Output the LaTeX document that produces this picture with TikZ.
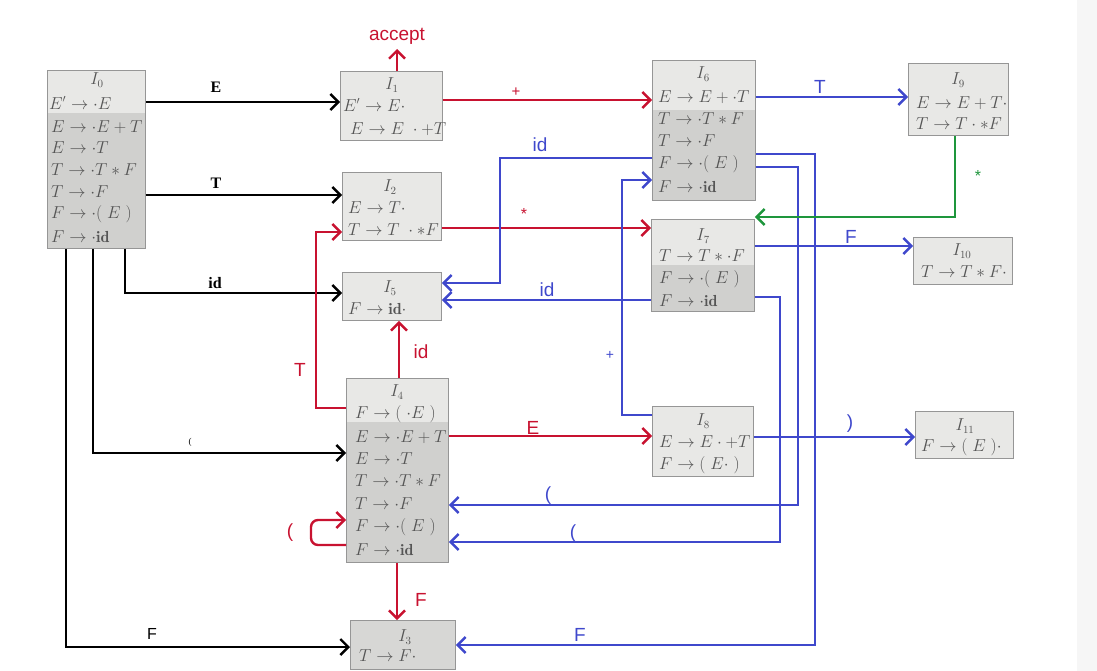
\documentclass[tikz,border=0pt]{standalone}
\usepackage{fontspec}
\newfontfamily\lab{Liberation Sans}
\newfontfamily\labs{Liberation Serif}
\usetikzlibrary{arrows.meta}
\definecolor{redc}{RGB}{200,18,48}
\definecolor{bluec}{RGB}{63,72,204}
\definecolor{greenc}{RGB}{30,150,60}
\definecolor{lightg}{RGB}{232,232,230}
\definecolor{darkg}{RGB}{208,208,206}
\definecolor{boxline}{RGB}{150,150,150}
\definecolor{itemg}{RGB}{85,85,85}
\definecolor{stripg}{RGB}{246,246,246}
\tikzset{
  box/.style={draw=boxline, line width=0.9pt, fill=lightg, anchor=north west, inner sep=0pt},
  itm/.style={text=itemg, font=\fontsize{16}{16}\selectfont, inner sep=0pt, anchor=west},
  ttl/.style={text=itemg, font=\fontsize{16}{16}\selectfont, inner sep=0pt},
  con/.style={line width=2.4pt, -{Straight Barb[length=8pt,width=16pt]}},
  blk/.style={con, black},
  red/.style={con, redc},
  blu/.style={con, bluec},
  grn/.style={con, greenc},
  lb/.style={font=\labs\bfseries\fontsize{16}{16}\selectfont, inner sep=0pt},
  lr/.style={font=\lab\fontsize{19}{19}\selectfont, text=redc, inner sep=0pt},
  lbl/.style={font=\lab\fontsize{19}{19}\selectfont, text=bluec, inner sep=0pt},
}
\begin{document}
\begin{tikzpicture}[x=1pt,y=-1pt]
\useasboundingbox (0,0) rectangle (1097,671);
\fill[stripg] (1077,0) rectangle (1097,671);

% ---------- boxes ----------
\node[box, minimum width=98pt, minimum height=178pt] (I0) at (47,70) {};
\fill[darkg] (I0.west |- 0,113) rectangle (I0.south east);
\draw[boxline, line width=0.9pt] (I0.north west) rectangle (I0.south east);
\node[ttl] (t0) at (97,80) {$I_0$};
\node[itm] (a0) at (49,103) {$E'\to\cdot E$};
\node[itm] (b0) at (51,127) {$E\to\cdot E+T$};
\node[itm] (c0) at (51,148) {$E\to\cdot T$};
\node[itm] (d0) at (51,170) {$T\to\cdot T*F$};
\node[itm] (e0) at (51,192) {$T\to\cdot F$};
\node[itm] (f0) at (51,214) {$F\to\cdot(\ E\ )$};
\node[itm] (g0) at (51,237) {$F\to\cdot\mathbf{id}$};

\node[box, minimum width=102pt, minimum height=69pt] (I1) at (340,71) {};
\node[ttl] (t1) at (392,85) {$I_1$};
\node[itm] (a1) at (343,105) {$E'\to E\cdot$};
\node[itm] (b1) at (350,129) {$E\to E\ \cdot +T$};

\node[box, minimum width=103pt, minimum height=140pt] (I6) at (652,60) {};
\fill[darkg] (I6.west |- 0,110) rectangle (I6.south east);
\draw[boxline, line width=0.9pt] (I6.north west) rectangle (I6.south east);
\node[ttl] (t6) at (703,74) {$I_6$};
\node[itm] (a6) at (658,97) {$E\to E+\cdot T$};
\node[itm] (b6) at (658,119) {$T\to\cdot T*F$};
\node[itm] (c6) at (658,141) {$T\to\cdot F$};
\node[itm] (d6) at (658,164) {$F\to\cdot(\ E\ )$};
\node[itm] (e6) at (658,187) {$F\to\cdot\mathbf{id}$};

\node[box, minimum width=100pt, minimum height=72pt] (I9) at (908,63) {};
\node[ttl] (t9) at (958,80) {$I_9$};
\node[itm] (a9) at (916,103) {$E\to E+T\cdot$};
\node[itm] (b9) at (916,124) {$T\to T\cdot *F$};

\node[box, minimum width=99pt, minimum height=68pt] (I2) at (342,172) {};
\node[ttl] (t2) at (390,187) {$I_2$};
\node[itm] (a2) at (348,208) {$E\to T\cdot$};
\node[itm] (b2) at (348,230) {$T\to T\ \cdot *F$};

\node[box, minimum width=99pt, minimum height=48pt] (I5) at (342,272) {};
\node[ttl] (t5) at (390,288) {$I_5$};
\node[itm] (a5) at (348,309) {$F\to\mathbf{id}\cdot$};

\node[box, minimum width=103pt, minimum height=92pt] (I7) at (651,219) {};
\fill[darkg] (I7.west |- 0,265) rectangle (I7.south east);
\draw[boxline, line width=0.9pt] (I7.north west) rectangle (I7.south east);
\node[ttl] (t7) at (703,236) {$I_7$};
\node[itm] (a7) at (659,256) {$T\to T*\cdot F$};
\node[itm] (b7) at (659,279) {$F\to\cdot(\ E\ )$};
\node[itm] (c7) at (659,301) {$F\to\cdot\mathbf{id}$};

\node[box, minimum width=99pt, minimum height=47pt] (I10) at (913,237) {};
\node[ttl] (t10) at (962,251) {$I_{10}$};
\node[itm] (a10) at (921,272) {$T\to T*F\cdot$};

\node[box, minimum width=102pt, minimum height=184pt] (I4) at (346,378) {};
\fill[darkg] (I4.west |- 0,422) rectangle (I4.south east);
\draw[boxline, line width=0.9pt] (I4.north west) rectangle (I4.south east);
\node[ttl] (t4) at (397,392) {$I_4$};
\node[itm] (a4) at (355,414) {$F\to(\ \cdot E\ )$};
\node[itm] (b4) at (355,437) {$E\to\cdot E+T$};
\node[itm] (c4) at (355,459) {$E\to\cdot T$};
\node[itm] (d4) at (355,481) {$T\to\cdot T*F$};
\node[itm] (e4) at (355,504) {$T\to\cdot F$};
\node[itm] (f4) at (355,527) {$F\to\cdot(\ E\ )$};
\node[itm] (g4) at (355,550) {$F\to\cdot\mathbf{id}$};

\node[box, minimum width=101pt, minimum height=70pt] (I8) at (652,406) {};
\node[ttl] (t8) at (703,421) {$I_8$};
\node[itm] (a8) at (659,442) {$E\to E\cdot +T$};
\node[itm] (b8) at (659,465) {$F\to(\ E\cdot\ )$};

\node[box, minimum width=98pt, minimum height=47pt] (I11) at (915,411) {};
\node[ttl] (t11) at (965,426) {$I_{11}$};
\node[itm] (a11) at (921,447) {$F\to(\ E\ )\cdot$};

\node[box, minimum width=105pt, minimum height=49pt, fill=darkg!70!lightg] (I3) at (350,620) {};
\node[ttl] (t3) at (405,637) {$I_3$};
\node[itm] (a3) at (359,656) {$T\to F\cdot$};

% ---------- black connectors ----------
\draw[blk] (I0.east |- 0,102) -- (I1.west |- 0,102);
\node[lb] (lE) at (216,87) {E};
\draw[blk] (I0.east |- 0,195) -- (I2.west |- 0,195);
\node[lb] (lT) at (216,183) {T};
\draw[blk] (I0.south -| 125,0) -- (125,293) -- (I5.west |- 0,293);
\node[lb] (lid) at (215,283) {id};
\draw[blk] (I0.south -| 93,0) -- (93,453) -- (I4.west |- 0,453);
\node[lb, font=\labs\fontsize{9}{9}\selectfont] (lpar) at (190,442) {(};
\draw[blk] (I0.south -| 66,0) -- (66,647) -- (I3.west |- 0,647);
\node[lb, font=\lab\fontsize{16}{16}\selectfont] (lF) at (152,634) {F};

% ---------- red connectors ----------
\node[lr] (acc) at (397,36) {accept};
\draw[red] (I1.north -| 397,0) -- (397,49);
\draw[red] (I1.east |- 0,100) -- (I6.west |- 0,100);
\node[lr, font=\lab\fontsize{15}{15}\selectfont] (lplus) at (516,92) {+};
\draw[red] (I2.east |- 0,228) -- (I7.west |- 0,228);
\node[lr, font=\lab\fontsize{16}{16}\selectfont] (lstar) at (524,214) {*};
\draw[red] (I4.west |- 0,408) -- (316,408) -- (316,232) -- (I2.west |- 0,232);
\node[lr] (lT4) at (300,370) {T};
\draw[red] (I4.north -| 399,0) -- (I5.south -| 399,0);
\node[lr] (lid4) at (421,352) {id};
\draw[red] (I4.east |- 0,436) -- (I8.west |- 0,436);
\node[lr] (lE4) at (533,428) {E};
\draw[red, rounded corners=7pt] (I4.west |- 0,545) -- (311,545) -- (311,520) -- (I4.west |- 0,520);
\node[lr] (lp4) at (290,533) {(};
\draw[red] (I4.south -| 397,0) -- (I3.north -| 397,0);
\node[lr] (lF4) at (421,600) {F};

% ---------- blue connectors ----------
\draw[blu] (I6.east |- 0,97) -- (I9.west |- 0,97);
\node[lbl] (lT6) at (820,87) {T};
\draw[blu] (I6.west |- 0,158) -- (500,158) -- (500,283) -- (I5.east |- 0,283);
\node[lbl] (lid6) at (540,145) {id};
\draw[blu] (I7.west |- 0,300) -- (I5.east |- 0,300);
\node[lbl] (lid7) at (547,290) {id};
\draw[blu] (I8.west |- 0,415) -- (622,415) -- (622,180) -- (I6.west |- 0,180);
\node[lbl, font=\lab\fontsize{14}{14}\selectfont] (lplus8) at (610,355) {+};
\draw[blu] (I6.east |- 0,154) -- (815,154) -- (815,645) -- (I3.east |- 0,645);
\node[lbl] (lF6) at (580,635) {F};
\draw[blu] (I6.east |- 0,167) -- (798,167) -- (798,505) -- (I4.east |- 0,505);
\node[lbl] (lp6) at (548,496) {(};
\draw[blu] (I7.east |- 0,297) -- (780,297) -- (780,542) -- (I4.east |- 0,542);
\node[lbl] (lp7) at (573,534) {(};
\draw[blu] (I7.east |- 0,246) -- (I10.west |- 0,246);
\node[lbl] (lF7) at (851,237) {F};
\draw[blu] (I8.east |- 0,437) -- (I11.west |- 0,437);
\node[lbl] (lrp) at (850,424) {)};

% ---------- green connector ----------
\draw[grn] (I9.south -| 955,0) -- (955,217) -- (I7.east |- 0,217);
\node[font=\lab\fontsize{16}{16}\selectfont, text=greenc, inner sep=0pt] (lstar9) at (978,176) {*};
\end{tikzpicture}
\end{document}
